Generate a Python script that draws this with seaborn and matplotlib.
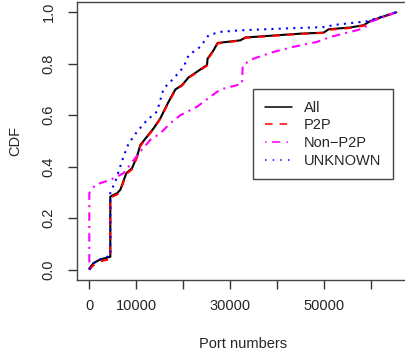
import matplotlib
matplotlib.use("Agg")
import matplotlib.pyplot as plt
import seaborn as sns
import pandas as pd
from matplotlib.lines import Line2D

# CDF points (port number, cumulative fraction)
all_port = [0, 920, 2350, 4480, 4480, 5900, 6600, 7890, 9100, 10170, 10870, 12300, 13700,
            15140, 16350, 17270, 18340, 19760, 21170, 22960, 24020, 25090, 25220, 26500,
            27360, 29360, 32200, 33260, 37890, 44990, 49960, 51020, 55650, 58490, 59910,
            62750, 65460]
all_cdf = [0.005, 0.026, 0.04, 0.05, 0.284, 0.297, 0.31, 0.375, 0.394, 0.44, 0.484, 0.517,
           0.549, 0.588, 0.633, 0.665, 0.70, 0.717, 0.747, 0.769, 0.782, 0.795, 0.82, 0.853,
           0.881, 0.885, 0.891, 0.902, 0.908, 0.917, 0.921, 0.934, 0.941, 0.95, 0.966,
           0.984, 1.0]

p2p_port = [0, 920, 2350, 4480, 4480, 5900, 6600, 7890, 9100, 10170, 10870, 12300, 13700,
            15140, 16350, 17270, 18340, 19760, 21170, 22960, 24020, 25090, 25220, 26500,
            27360, 29360, 32200, 33260, 37890, 44990, 49960, 51020, 55650, 58490, 59910,
            62750, 65460]
p2p_cdf = [0.0, 0.018, 0.032, 0.042, 0.28, 0.292, 0.305, 0.372, 0.39, 0.437, 0.48, 0.515,
           0.547, 0.586, 0.63, 0.662, 0.698, 0.715, 0.745, 0.767, 0.78, 0.793, 0.818, 0.85,
           0.879, 0.884, 0.89, 0.901, 0.907, 0.916, 0.92, 0.932, 0.939, 0.948, 0.964,
           0.983, 1.0]

nonp2p_port = [0, 0, 1280, 4480, 7310, 10870, 13000, 15140, 17270, 19400, 22960, 25800,
               27930, 31490, 32560, 32700, 35030, 39300, 43560, 48550, 51390, 55650, 58490,
               59910, 62750, 65460]
nonp2p_cdf = [0.0, 0.298, 0.33, 0.349, 0.375, 0.459, 0.504, 0.53, 0.569, 0.60, 0.633, 0.672,
              0.70, 0.717, 0.723, 0.795, 0.82, 0.846, 0.866, 0.885, 0.904, 0.924, 0.937,
              0.963, 0.982, 1.0]

unknown_port = [0, 920, 2350, 4480, 4480, 5540, 7310, 8380, 10170, 12300, 14430, 15850,
                17980, 20110, 21170, 23670, 25440, 27930, 32200, 41430, 50680, 51740, 59200,
                62750, 65460]
unknown_cdf = [0.0, 0.025, 0.04, 0.055, 0.30, 0.342, 0.44, 0.49, 0.536, 0.581, 0.614, 0.704,
               0.743, 0.788, 0.833, 0.866, 0.911, 0.924, 0.93, 0.937, 0.943, 0.95, 0.965,
               0.986, 1.0]

labels = ["All", "P2P", "Non\u2212P2P", "UNKNOWN"]
colors = ["black", "red", "#ff00ff", "blue"]
styles = ["-", (0, (3.5, 3.5)), (0, (1, 2.5, 4, 2.5)), (0, (1, 2.5))]
leg_styles = ["-", (0, (5, 4.5)), (0, (1, 3.5, 5.5, 4)), (0, (1, 4))]

sns.set_style("white")
plt.rcParams["font.family"] = ["Liberation Sans", "DejaVu Sans"]

fig = plt.figure(figsize=(4.06, 3.56), dpi=100)
ax = fig.add_axes([77 / 406, 1 - 280 / 356, 332 / 406, 278 / 356])

series = [(all_port, all_cdf), (p2p_port, p2p_cdf),
          (nonp2p_port, nonp2p_cdf), (unknown_port, unknown_cdf)]
for (xs, ys), lab, col, ls in zip(series, labels, colors, styles):
    df = pd.DataFrame({"port": xs, "cdf": ys})
    sns.lineplot(data=df, x="port", y="cdf", sort=False, estimator=None, ax=ax,
                 color=col, linestyle=ls, linewidth=1.5)

ax.set_xlim(-2621, 68156)
ax.set_ylim(-0.04, 1.04)
ax.set_xticks([0, 10000, 20000, 30000, 40000, 50000, 60000])
ax.set_xticklabels(["0", "10000", "", "30000", "", "50000", ""])
ax.set_yticks([0.0, 0.2, 0.4, 0.6, 0.8, 1.0])
ax.set_yticklabels(["0.0", "0.2", "0.4", "0.6", "0.8", "1.0"], rotation=90, va="center")
ax.tick_params(axis="both", direction="out", length=6.8, width=1, color="#333333",
               labelsize=10.5, pad=7, bottom=True, left=True)
ax.tick_params(axis="y", pad=8.5)
for s in ax.spines.values():
    s.set_color("#444444")
    s.set_linewidth(1)
ax.set_xlabel("Port numbers", fontsize=10.5, labelpad=17)
ax.set_ylabel("CDF", fontsize=10.5, labelpad=14)

handles = [Line2D([], [], color=c, linestyle=ls, linewidth=1.1)
           for c, ls in zip(colors, leg_styles)]
leg = ax.legend(handles, labels, loc="upper left", bbox_to_anchor=(0.530, 0.687),
                fontsize=10.5, frameon=True, fancybox=False, framealpha=1,
                edgecolor="#444444", borderpad=0.8, labelspacing=0.25,
                handlelength=1.85, handletextpad=0.85, borderaxespad=0)
leg.get_frame().set_linewidth(1)

fig.savefig("out.png", dpi=100)
